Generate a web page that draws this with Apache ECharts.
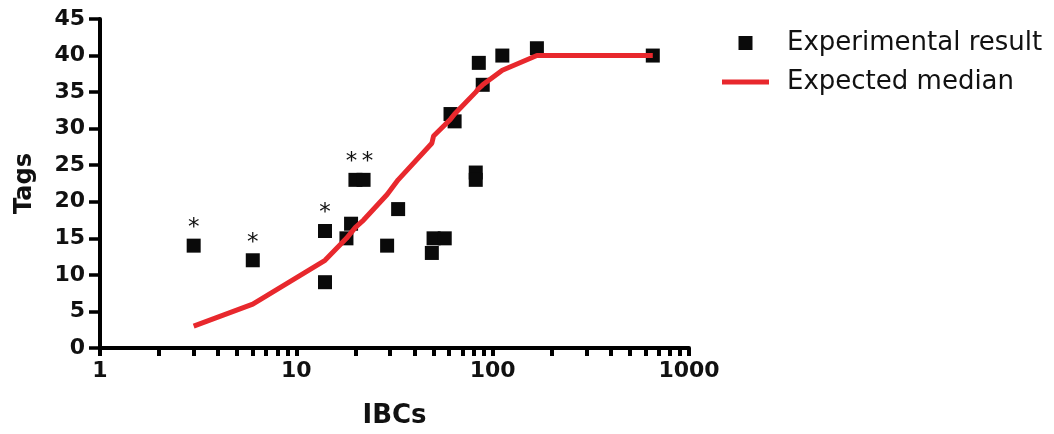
<!DOCTYPE html>
<html>
<head>
<meta charset="utf-8">
<script src="https://cdn.jsdelivr.net/npm/echarts@6/dist/echarts.min.js"></script>
<style>
  html, body { margin: 0; padding: 0; background: #fff; }
  #chart { width: 1054px; height: 434px; }
</style>
</head>
<body>
<div id="chart"></div>
<script>
// experimental results (IBCs vs Tags)
const expX = [3, 6, 14, 14, 18, 19, 20, 22, 29, 33, 49, 50, 57, 61, 64, 82, 82, 85, 89, 112, 168, 654];
const expY = [14, 12, 16, 9, 15, 17, 23, 23, 14, 19, 13, 15, 15, 32, 31, 24, 23, 39, 36, 40, 41, 40];

// expected median curve
const medX = [3, 6, 14, 18, 20, 22, 29, 33, 49, 50, 57, 61, 64, 82, 85, 89, 112, 168, 654];
const medY = [3, 6, 12, 15, 16.5, 17.5, 21, 23, 28, 29, 30.5, 31.3, 32, 35, 35.5, 36, 38, 40, 40];

// points marked with an asterisk (index into expX/expY)
const starred = [0, 1, 2, 6, 7];

const xTicks = [1, 2, 3, 4, 5, 6, 7, 8, 9, 10, 20, 30, 40, 50, 60, 70, 80, 90,
  100, 200, 300, 400, 500, 600, 700, 800, 900, 1000];
const xLabels = [1, 10, 100, 1000];

const font = 'DejaVu Sans';
const red = '#e8282d';

const chart = echarts.init(document.getElementById('chart'));

const expData = expX.map((x, i) => {
  const item = { value: [x, expY[i]] };
  if (starred.indexOf(i) >= 0) {
    let dx = 0;
    if (i === 6) dx = -4;
    if (i === 7) dx = 4;
    item.label = {
      show: true,
      formatter: '*',
      position: 'top',
      distance: -1,
      offset: [dx, 0],
      fontFamily: font,
      fontSize: 23,
      color: '#111'
    };
  }
  return item;
});

const axisLine = { show: true, lineStyle: { color: '#000', width: 4 } };

chart.setOption({
  animation: false,
  backgroundColor: '#fff',
  textStyle: { fontFamily: font },
  grid: { left: 100, right: 365, top: 19, bottom: 82 },
  legend: {
    orient: 'vertical',
    left: 722,
    top: 30,
    padding: 0,
    itemWidth: 47,
    itemHeight: 14,
    itemGap: 13,
    textStyle: {
      fontFamily: font,
      fontSize: 26,
      lineHeight: 26,
      color: '#111',
      padding: [0, 0, 0, 13]
    },
    data: [
      { name: 'Experimental result', icon: 'path://M0,0h14v14h-14z' },
      { name: 'Expected median', icon: 'path://M0,0h47v5h-47z' }
    ]
  },
  xAxis: {
    type: 'log',
    logBase: 10,
    min: 1,
    max: 1000,
    name: 'IBCs',
    nameLocation: 'middle',
    nameGap: 55,
    nameTextStyle: { fontFamily: font, fontSize: 26, fontWeight: 'bold', color: '#111' },
    axisLine: axisLine,
    axisTick: {
      show: true,
      length: 8,
      customValues: xTicks,
      lineStyle: { color: '#000', width: 4 }
    },
    axisLabel: {
      customValues: xLabels,
      formatter: (v) => String(Math.round(v)),
      margin: 12,
      fontFamily: font,
      fontSize: 22,
      fontWeight: 'bold',
      color: '#111'
    },
    splitLine: { show: false },
    minorTick: { show: false }
  },
  yAxis: {
    type: 'value',
    min: 0,
    max: 45,
    interval: 5,
    name: 'Tags',
    nameLocation: 'middle',
    nameGap: 63,
    nameTextStyle: { fontFamily: font, fontSize: 24, fontWeight: 'bold', color: '#111' },
    axisLine: axisLine,
    axisTick: { show: true, length: 11, lineStyle: { color: '#000', width: 3.5 } },
    axisLabel: {
      margin: 15,
      fontFamily: font,
      fontSize: 22,
      fontWeight: 'bold',
      color: '#111'
    },
    splitLine: { show: false }
  },
  series: [
    {
      name: 'Experimental result',
      type: 'scatter',
      symbol: 'rect',
      symbolSize: 14,
      itemStyle: { color: '#0a0a0a', opacity: 1 },
      data: expData,
      z: 3
    },
    {
      name: 'Expected median',
      type: 'line',
      symbol: 'none',
      lineStyle: { color: red, width: 5 },
      itemStyle: { color: red },
      data: medX.map((x, i) => [x, medY[i]]),
      z: 4
    }
  ]
});
</script>
</body>
</html>
